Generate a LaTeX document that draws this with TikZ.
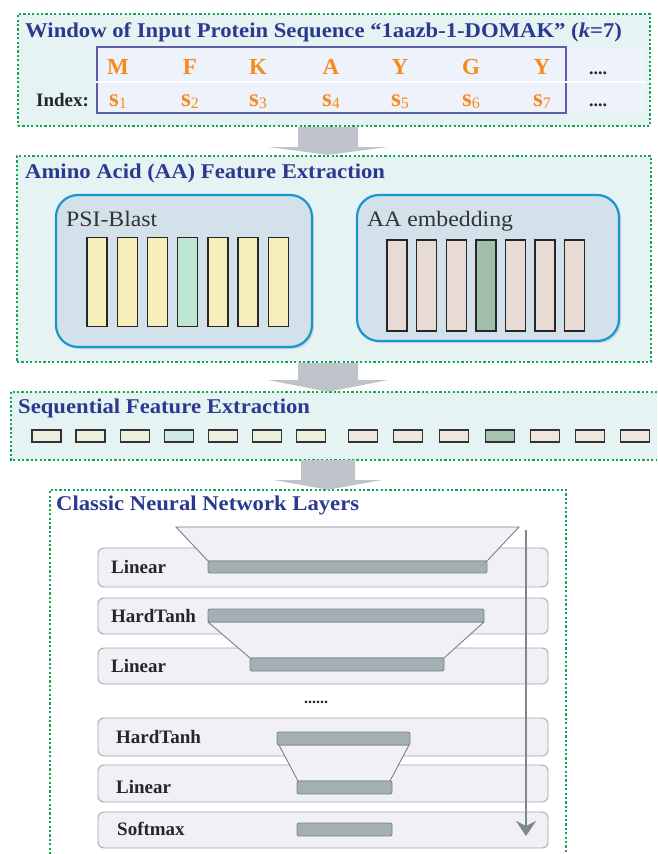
\documentclass[tikz,border=0pt]{standalone}
\usepackage{fontspec}
\setmainfont{Liberation Serif}
\newfontfamily\wfont[FakeStretch=1.08]{Liberation Serif}
\usetikzlibrary{shadows,calc,arrows.meta}
\definecolor{dotgreen}{HTML}{12A650}
\definecolor{secfill}{HTML}{E6F3F3}
\definecolor{titleblue}{HTML}{2B3990}
\definecolor{tabfill}{HTML}{EEF2FA}
\definecolor{tabborder}{HTML}{5C5FA8}
\definecolor{aaorange}{HTML}{F68B1F}
\definecolor{aagreen}{HTML}{00A14B}
\definecolor{boxfill}{HTML}{D3E1EA}
\definecolor{boxborder}{HTML}{1B95D0}
\definecolor{psiyellow}{HTML}{F6EFBC}
\definecolor{psigreen}{HTML}{BFE6D3}
\definecolor{embpink}{HTML}{E8DAD5}
\definecolor{embgreen}{HTML}{A2BFAB}
\definecolor{seqyellow}{HTML}{EAF0DE}
\definecolor{seqcyan}{HTML}{D2EAE5}
\definecolor{seqpink}{HTML}{EFE6DD}
\definecolor{seqgreen}{HTML}{A6C3AF}
\definecolor{arrowgray}{HTML}{BEC4CA}
\definecolor{layerfill}{HTML}{F0F0F5}
\definecolor{layerborder}{HTML}{A3A7B1}
\definecolor{barfill}{HTML}{A3AFB2}
\definecolor{barborder}{HTML}{7E898C}
\definecolor{flowgray}{HTML}{7F878E}
\definecolor{trapborder}{HTML}{7A7F86}
\newcommand{\blkarrow}[6]{% center x, shaft half, head half, top anchor, head base y, tip anchor
  \fill[arrowgray] (#1-#2,0 |- #4) -- (#1+#2,0 |- #4) -- (#1+#2,#5) -- (#1+#3,#5)
    -- (#1,0 |- #6) -- (#1-#3,#5) -- (#1-#2,#5) -- cycle;}
\begin{document}
\begin{tikzpicture}[x=1pt,y=-1pt,
  dotline/.style={draw=dotgreen, line width=2.2pt, dash pattern=on 2.2pt off 2.2pt},
  secbox/.style={dotline, fill=secfill, inner sep=0},
  sectitle/.style={font=\wfont\bfseries\fontsize{21}{24}\selectfont, text=titleblue, anchor=base west, inner sep=0},
  aa/.style={font=\bfseries\fontsize{23}{24}\selectfont, text=aaorange, anchor=base, inner sep=0},
  idx/.style={font=\bfseries\fontsize{25}{26}\selectfont, text=aaorange, anchor=base, inner sep=0},
  dots/.style={font=\bfseries\fontsize{18}{20}\selectfont, text=black!85, anchor=base, inner sep=0},
  featbox/.style={draw=boxborder, line width=2.2pt, fill=boxfill, rounded corners=22pt, inner sep=0,
     drop shadow={opacity=0.25, shadow xshift=2pt, shadow yshift=-2pt}},
  featlabel/.style={font=\wfont\fontsize{22}{24}\selectfont, text=black!80, anchor=base west, inner sep=0},
  vbar/.style={draw=black!85, line width=1.4pt, minimum width=20, minimum height=89, inner sep=0},
  sbar/.style={draw=black!80, line width=1.3pt, minimum width=29, minimum height=12, inner sep=0},
  layer/.style={draw=layerborder, line width=0.9pt, fill=layerfill, rounded corners=6pt,
     minimum width=450, inner sep=0},
  laylabel/.style={font=\bfseries\fontsize{19}{20}\selectfont, text=black!85, anchor=base west, inner sep=0},
  nbar/.style={draw=barborder, line width=0.9pt, fill=barfill, rounded corners=2pt, inner sep=0},
  trap/.style={draw=trapborder, line width=0.9pt, fill=layerfill}
]
\useasboundingbox (0,0) rectangle (657,854);

% ---------- section 1 ----------
\node[secbox, minimum width=632, minimum height=112] (win) at (334,70) {};
\node[sectitle] (wint) at (25,37) {Window of Input Protein Sequence “1aazb-1-DOMAK” (\textit{k}=7)};
\fill[tabfill] (566,48) rectangle (646,81);
\fill[tabfill] (566,83) rectangle (646,113);
\node[draw=tabborder, fill=tabfill, line width=1.1pt, minimum width=469, minimum height=66, inner sep=0] (tab) at (331.5,80) {};
\draw[white, line width=1.2pt] (tab.west |- 0,82) -- (646,82);
\foreach \i/\l/\x in {1/M/118,2/F/190,3/K/258,4/A/331,5/Y/400,6/G/471,7/Y/542}{
  \node[aa] (aa\i) at (\x,74) {\l};
  \node[idx] (s\i) at (\x,106) {s\raisebox{-2pt}{\mdseries\fontsize{16}{16}\selectfont\i}};
}
\node[aa, text=aagreen] at (aa4) {};
\node[dots] (d1) at (598,74) {....};
\node[dots] (d2) at (598,106) {....};
\node[font=\bfseries\fontsize{19}{20}\selectfont, text=black!85, anchor=base west, inner sep=0] (index) at (36,106) {Index:};

% ---------- section 2 ----------
\node[secbox, minimum width=634, minimum height=206] (aafe) at (334,259) {};
\node[sectitle] (aafet) at (25,178) {Amino Acid (AA) Feature Extraction};
\node[featbox, minimum width=256, minimum height=152] (psi) at (184,271) {};
\node[featbox, minimum width=262, minimum height=146] (emb) at (488,268) {};
\node[featlabel] (psit) at (66,226) {PSI-Blast};
\node[featlabel] (embt) at (367,226) {AA embedding};
\foreach \i/\c in {1/psiyellow,2/psiyellow,3/psiyellow,4/psigreen,5/psiyellow,6/psiyellow,7/psiyellow}{
  \node[vbar, fill=\c] (p\i) at ({97+30.2*(\i-1)},282) {};
}
\foreach \i/\c in {1/embpink,2/embpink,3/embpink,4/embgreen,5/embpink,6/embpink,7/embpink}{
  \node[vbar, fill=\c, minimum height=91] (e\i) at ({397+29.6*(\i-1)},285.5) {};
}

% ---------- section 3 ----------
\node[fill=secfill, minimum width=646, minimum height=68, inner sep=0] (seq) at (334,426) {};
\draw[dotline] (seq.north east) -- (seq.north west) -- (seq.south west) -- (seq.south east);
\node[sectitle] (seqt) at (18,413) {Sequential Feature Extraction};
\foreach \i/\x/\c in {1/31.4/seqyellow,2/75.4/seqyellow,3/120.2/seqyellow,4/164.2/seqcyan,5/208.2/seqyellow,6/251.8/seqyellow,7/296.2/seqyellow,
  8/347.7/seqpink,9/393/seqpink,10/439/seqpink,11/485/seqgreen,12/530/seqpink,13/575/seqpink,14/620/seqpink}{
  \node[sbar, fill=\c] (q\i) at ({\x+15},436) {};
}

% ---------- section 4 ----------
\node[fill=white, minimum width=516, minimum height=364, inner sep=0] (cnn) at (308,672) {};
\draw[dotline] (cnn.south west) -- (cnn.north west) -- (cnn.north east) -- (cnn.south east);
\node[sectitle] (cnnt) at (56,510) {Classic Neural Network Layers};

\node[layer, minimum height=39] (l1) at (323,567.5) {};
\node[layer, minimum height=36] (l2) at (323,616) {};
\node[layer, minimum height=36] (l3) at (323,666) {};
\node[layer, minimum height=38] (l4) at (323,737) {};
\node[layer, minimum height=37] (l5) at (323,783.5) {};
\node[layer, minimum height=36] (l6) at (323,830) {};
\node[laylabel] (l1t) at (111,573) {Linear};
\node[laylabel] (l2t) at (111,622) {HardTanh};
\node[laylabel] (l3t) at (111,672) {Linear};
\node[laylabel] (l4t) at (116,743) {HardTanh};
\node[laylabel] (l5t) at (116,793) {Linear};
\node[laylabel] (l6t) at (117,835) {Softmax};
\node[font=\bfseries\fontsize{16}{16}\selectfont, text=black!85, anchor=base, inner sep=0] (ell) at (316,703) {......};

% trapezoids
\draw[trap] (176,527) -- (519,527) -- (487,561) -- (208,561) -- cycle;
\draw[trap] (208,622) -- (484,622) -- (444,658) -- (250,658) -- cycle;
\draw[trap] (279,745) -- (409,745) -- (390,781) -- (298,781) -- cycle;
% bars
\node[nbar, minimum width=279, minimum height=12] (b1) at (347.5,567) {};
\node[nbar, minimum width=276, minimum height=13] (b2) at (346,615.5) {};
\node[nbar, minimum width=194, minimum height=13] (b3) at (347,664.5) {};
\node[nbar, minimum width=133, minimum height=13] (b4) at (343.5,738.5) {};
\node[nbar, minimum width=95, minimum height=13] (b5) at (344.5,787.5) {};
\node[nbar, minimum width=95, minimum height=13] (b6) at (344.5,829.5) {};

% flow arrow
\coordinate (fstart) at (526,530);
\coordinate (fend) at (526,836);
\draw[flowgray, line width=1.6pt, -{Stealth[length=15pt, width=20pt, inset=5pt]}] (fstart) -- (fend);

% block arrows between sections
\blkarrow{328}{30}{60}{win.south}{147}{aafe.north}
\blkarrow{328}{30}{60}{aafe.south}{380}{seq.north}
\blkarrow{328}{27}{54}{seq.south}{480}{cnn.north}
\end{tikzpicture}
\end{document}
